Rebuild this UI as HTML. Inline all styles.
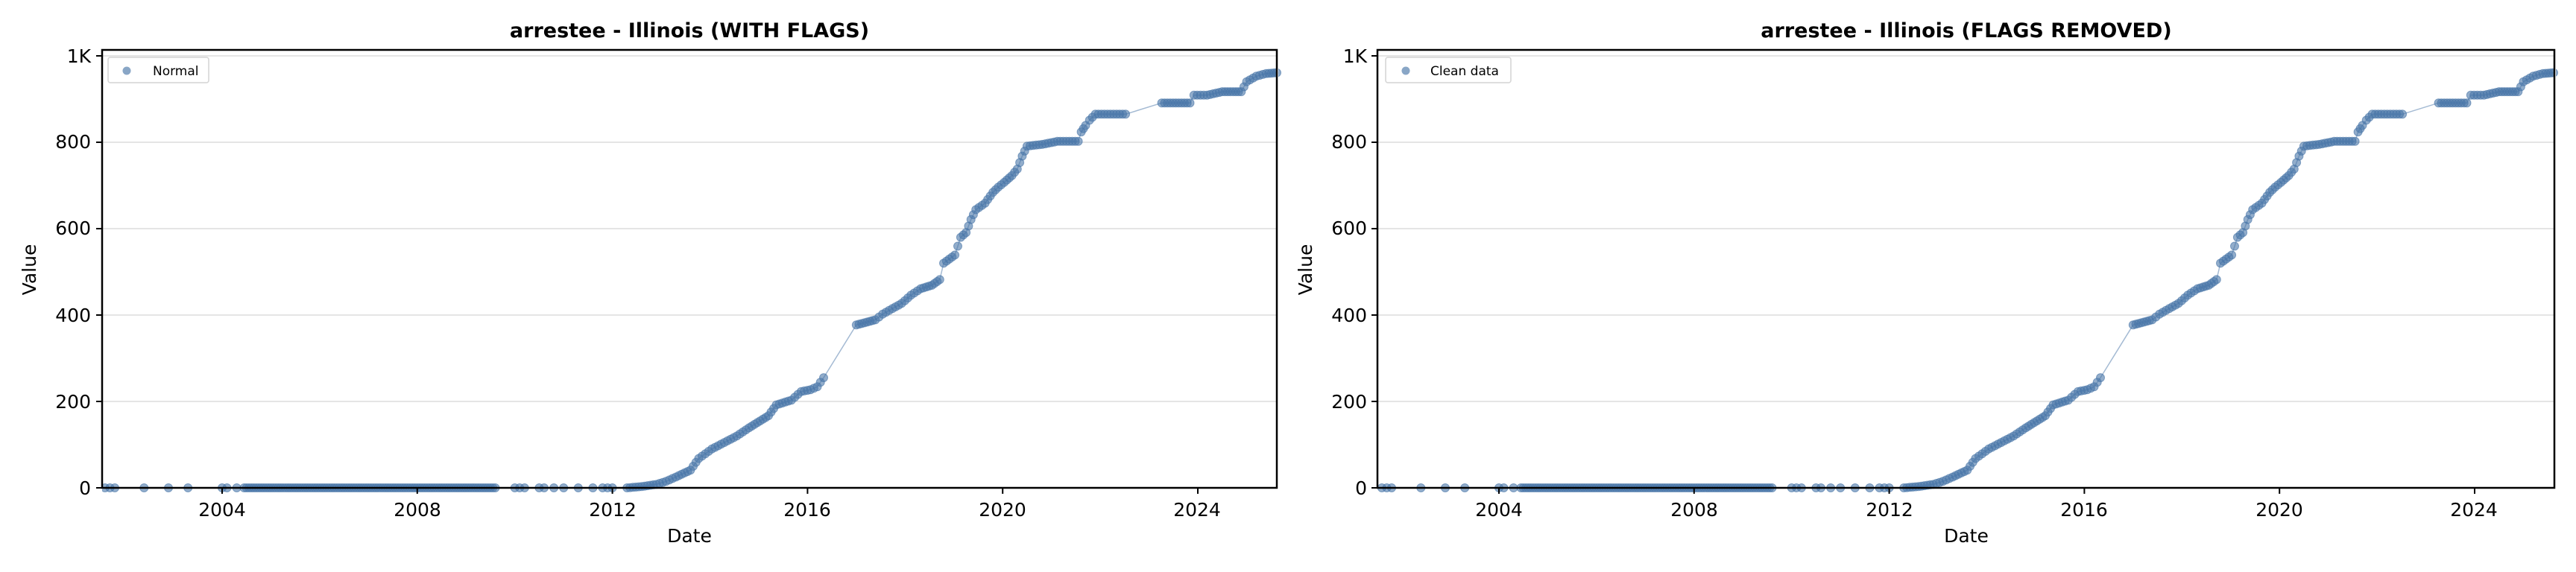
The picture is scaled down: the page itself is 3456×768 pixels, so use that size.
<!DOCTYPE html>
<html><head><meta charset="utf-8"><style>
html,body{margin:0;padding:0;background:#fff;}
svg{display:block;font-family:"DejaVu Sans","Liberation Sans",sans-serif;}
</style></head><body>
<svg id="s" width="3456" height="768" xmlns="http://www.w3.org/2000/svg">
<rect width="3456" height="768" fill="#fff"/>
<g id="p1"></g><g id="p2"></g>
<text x="925" y="50" font-size="27" font-weight="bold" text-anchor="middle">arrestee - Illinois (WITH FLAGS)</text>
<text x="2638" y="50" font-size="27" font-weight="bold" text-anchor="middle">arrestee - Illinois (FLAGS REMOVED)</text>
<g font-size="25" text-anchor="end">
<text x="122" y="664">0</text><text x="122" y="548">200</text><text x="122" y="432">400</text><text x="122" y="315">600</text><text x="122" y="199">800</text><text x="122" y="84">1K</text>
<text x="1834" y="664">0</text><text x="1834" y="548">200</text><text x="1834" y="432">400</text><text x="1834" y="315">600</text><text x="1834" y="199">800</text><text x="1834" y="84">1K</text>
</g>
<g font-size="25" text-anchor="middle">
<text x="298" y="693">2004</text><text x="560" y="693">2008</text><text x="822" y="693">2012</text><text x="1083" y="693">2016</text><text x="1345" y="693">2020</text><text x="1606" y="693">2024</text>
<text x="2011" y="693">2004</text><text x="2273" y="693">2008</text><text x="2535" y="693">2012</text><text x="2796" y="693">2016</text><text x="3058" y="693">2020</text><text x="3319" y="693">2024</text>
<text x="925" y="728">Date</text><text x="2638" y="728">Date</text>
<text transform="translate(48,362) rotate(-90)">Value</text>
<text transform="translate(1760,362) rotate(-90)">Value</text>
</g>
<g font-size="17">
<rect x="145" y="77" width="135" height="34" rx="3" fill="#fff" stroke="#d4d4d4" stroke-width="1.5"/>
<circle cx="170" cy="95" r="5.5" fill="#4a76a8" fill-opacity="0.65"/>
<text x="205" y="101">Normal</text>
<rect x="1859" y="77" width="168" height="34" rx="3" fill="#fff" stroke="#d4d4d4" stroke-width="1.5"/>
<circle cx="1886" cy="95" r="5.5" fill="#4a76a8" fill-opacity="0.65"/>
<text x="1919" y="101">Clean data</text>
</g>
</svg>
<script>
var key=[[2012.3,0],[2012.6,3],[2012.9,8],[2013.1,15],[2013.3,25],[2013.6,41],[2013.77,68],[2014.04,90],[2014.55,120],[2014.8,139],[2015.2,167],[2015.36,192],[2015.67,203],[2015.87,223],[2016.06,227],[2016.2,234],[2016.33,255],
[2017.0,377],[2017.39,389],[2017.54,402],[2017.74,415],[2017.93,427],[2018.12,446],[2018.32,461],[2018.55,469],[2018.71,482],[2018.79,520],[2019.02,539],[2019.14,580],[2019.25,591],[2019.35,621],[2019.45,644],[2019.64,659],[2019.8,684],[2019.91,696],[2020.03,707],[2020.19,723],[2020.3,738],[2020.4,768],[2020.5,791],[2020.81,795],[2021.12,802],[2021.55,802],[2021.61,824],[2021.7,839],[2021.78,851],[2021.9,865],[2022.52,865],
[2023.26,891],[2023.84,891],[2023.92,909],[2024.19,909],[2024.5,917],[2024.89,917],[2025.0,940],[2025.2,953],[2025.4,959],[2025.62,961]];
var gaps=[[2016.33,2017.0],[2022.52,2023.26]];
var pts=[];
[2001.6,2001.7,2001.8,2002.4,2002.9,2003.3,2004.0,2004.1,2004.3,2004.45].forEach(function(t){pts.push([t,0]);});
for(var t=2004.5;t<2009.6;t+=0.05)pts.push([t,0]);
[2010,2010.1,2010.2,2010.5,2010.6,2010.8,2011.0,2011.3,2011.6,2011.8,2011.9,2012.0].forEach(function(t){pts.push([t,0]);});
for(var i=0;i<key.length-1;i++){
 var a=key[i],b=key[i+1],gap=false;
 gaps.forEach(function(g){if(Math.abs(a[0]-g[0])<1e-6)gap=true;});
 if(gap){pts.push(a);continue;}
 var n=Math.max(1,Math.round((b[0]-a[0])/0.06));
 for(var k=0;k<n;k++){var f=k/n;pts.push([a[0]+f*(b[0]-a[0]),a[1]+f*(b[1]-a[1])]);}
}
pts.push(key[key.length-1]);
function draw(gid,x0,xl,xr){
 var g=document.getElementById(gid);
 var X=function(t){return x0+(t-2004)*65.45;},Y=function(v){return 655-v*0.58;};
 var s='';
 [200,400,600,800,1000].forEach(function(v){s+='<line x1="'+xl+'" x2="'+xr+'" y1="'+Y(v)+'" y2="'+Y(v)+'" stroke="#e5e5e5" stroke-width="2"/>';});
 var d='';pts.forEach(function(p){var x=X(p[0]);if(x<xl||x>xr+3)return;d+=(d?'L':'M')+x.toFixed(1)+' '+Y(p[1]).toFixed(1);});
 s+='<path d="'+d+'" fill="none" stroke="#4a76a8" stroke-opacity="0.5" stroke-width="1.5"/>';
 pts.forEach(function(p){var x=X(p[0]);if(x<xl-3||x>xr+3)return;s+='<circle cx="'+x.toFixed(1)+'" cy="'+Y(p[1]).toFixed(1)+'" r="5.5" fill="#4a76a8" fill-opacity="0.6" stroke="#4a76a8" stroke-opacity="0.6" stroke-width="1"/>';});
 s+='<rect x="'+(xl-40)+'" y="0" width="40" height="768" fill="#fff"/>';
 s+='<rect x="'+xr+'" y="60" width="2" height="600" fill="#fff"/>';
 s+='<rect x="'+xl+'" y="67" width="'+(xr-xl)+'" height="588" fill="none" stroke="#000" stroke-width="2.5"/>';
 [0,200,400,600,800,1000].forEach(function(v){s+='<line x1="'+(xl-8)+'" x2="'+xl+'" y1="'+Y(v)+'" y2="'+Y(v)+'" stroke="#000" stroke-width="2"/>';});
 [2004,2008,2012,2016,2020,2024].forEach(function(t){s+='<line x1="'+X(t)+'" x2="'+X(t)+'" y1="655" y2="663" stroke="#000" stroke-width="2"/>';});
 g.innerHTML=s;
}
draw("p1",298,137,1713);
draw("p2",2011,1848,3427);
</script>
</body></html>
